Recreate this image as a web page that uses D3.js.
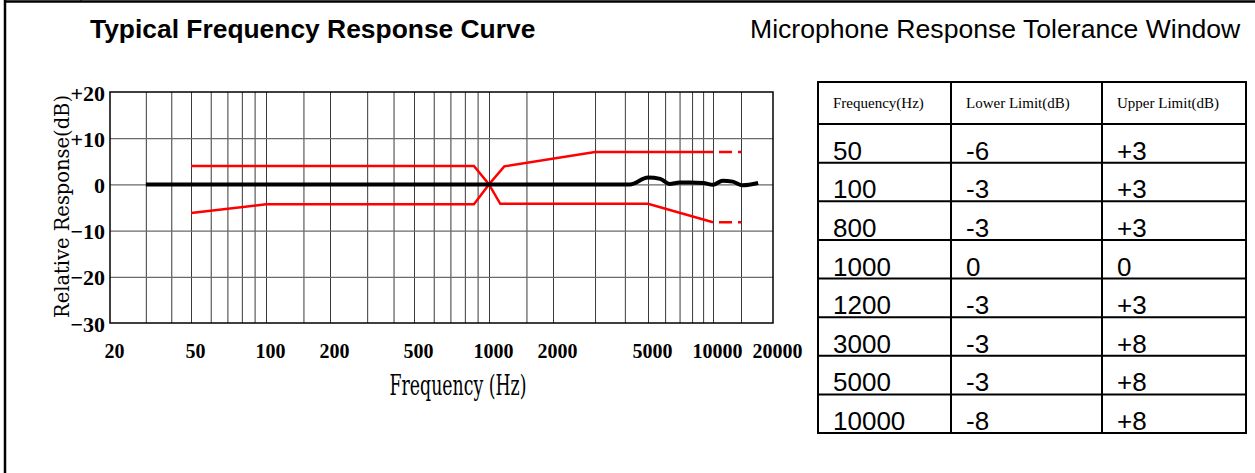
<!DOCTYPE html>
<html>
<head>
<meta charset="utf-8">
<script src="https://cdn.jsdelivr.net/npm/d3@7"></script>
<style>
body { margin: 0; background: #fff; }
svg { display: block; }
</style>
</head>
<body>
<svg id="chart" width="1255" height="473"></svg>
<script>
// axis labels and grid
var freqTicks = [20, 50, 100, 200, 500, 1000, 2000, 5000, 10000, 20000];
var gridFreqs = [30, 40, 50, 60, 70, 80, 90, 100, 150, 200, 300, 400, 500, 600, 700, 800, 900,
  1000, 1500, 2000, 3000, 4000, 5000, 6000, 7000, 8000, 9000, 10000, 15000];
var dbTicks = [20, 10, 0, -10, -20, -30];

// tolerance window, as drawn on the graph
var upperFreq = [50, 870, 1000, 1180, 3000, 10000];
var upperDb = [4, 4, 0, 3.9, 7, 7];
var lowerFreq = [50, 100, 870, 1000, 1130, 5000, 10000];
var lowerDb = [-6.2, -4.3, -4.3, 0, -4.2, -4.2, -8.2];
var extFreq = [10000, 15000];

// typical response curve
var responseFreq = [30, 1000, 4200, 5000, 5700, 6300, 7000, 7800, 9000, 10000, 11500, 13300, 15200, 17500];
var responseDb = [0, 0, 0, 1.5, 1.2, 0.1, 0.4, 0.4, 0.3, -0.1, 0.8, 0.6, -0.2, 0.3];

// tolerance table
var tableHead = ["Frequency(Hz)", "Lower Limit(dB)", "Upper Limit(dB)"];
var tableFreq = ["50", "100", "800", "1000", "1200", "3000", "5000", "10000"];
var tableLower = ["-6", "-3", "-3", "0", "-3", "-3", "-3", "-8"];
var tableUpper = ["+3", "+3", "+3", "0", "+3", "+8", "+8", "+8"];

var svg = d3.select("#chart");

// page frame
svg.append("line").attr("x1", 5).attr("y1", 0).attr("x2", 5).attr("y2", 473)
  .attr("stroke", "#000").attr("stroke-width", 2.5);
svg.append("line").attr("x1", 4).attr("y1", 1.5).attr("x2", 1255).attr("y2", 1.5)
  .attr("stroke", "#000").attr("stroke-width", 2.5);
svg.append("line").attr("x1", 81).attr("y1", 0).attr("x2", 81).attr("y2", 2)
  .attr("stroke", "#000").attr("stroke-width", 1);

// titles
svg.append("text").attr("x", 90).attr("y", 38)
  .style("font-family", "'Liberation Sans', Arial, sans-serif").style("font-size", "26.4px")
  .style("font-weight", "bold").text("Typical Frequency Response Curve");
svg.append("text").attr("x", 750).attr("y", 38)
  .style("font-family", "'Liberation Sans', Arial, sans-serif").style("font-size", "26.6px")
  .text("Microphone Response Tolerance Window");

// ---- graph ----
var plotL = 110, plotR = 773, plotT = 92, plotB = 323;

// the printed axis is not a perfect log, so calibrate it piecewise on the labels
var x = d3.scaleLog()
  .domain([20, 50, 100, 200, 500, 1000, 2000, 5000, 10000, 15000, 20000])
  .range([110, 191, 266, 330, 414, 489, 553, 648, 713, 741, 773]);
var y = d3.scaleLinear().domain([-30, 20]).range([plotB, plotT]);

var xgrid = svg.append("g").attr("transform", "translate(0," + plotB + ")")
  .call(d3.axisBottom(x).tickValues(gridFreqs).tickSize(-(plotB - plotT)).tickFormat(""));
xgrid.select(".domain").remove();
xgrid.selectAll("line").attr("stroke", "#3a3a3a").attr("stroke-width", 1);

var ygrid = svg.append("g").attr("transform", "translate(" + plotL + ",0)")
  .call(d3.axisLeft(y).tickValues([10, 0, -10, -20]).tickSize(-(plotR - plotL)).tickFormat(""));
ygrid.select(".domain").remove();
ygrid.selectAll("line").attr("stroke", "#6a6a6a").attr("stroke-width", 1.2);

svg.append("rect").attr("x", plotL).attr("y", plotT).attr("width", plotR - plotL).attr("height", plotB - plotT)
  .attr("fill", "none").attr("stroke", "#000").attr("stroke-width", 1.5);

var xaxis = svg.append("g").attr("transform", "translate(4," + (plotB + 18) + ")")
  .call(d3.axisBottom(x).tickValues(freqTicks).tickSize(0).tickFormat(d3.format("d")));
xaxis.select(".domain").remove();
xaxis.selectAll("text")
  .style("font-family", "'Liberation Serif', 'Times New Roman', serif")
  .style("font-size", "20px").style("font-weight", "bold").attr("fill", "#000");

var yaxis = svg.append("g").attr("transform", "translate(" + (plotL - 2) + ",1)")
  .call(d3.axisLeft(y).tickValues(dbTicks).tickSize(0)
    .tickFormat(function(d) { return d > 0 ? "+" + d : (d < 0 ? "\u2212" + (-d) : "0"); }));
yaxis.select(".domain").remove();
yaxis.selectAll("text")
  .style("font-family", "'Liberation Serif', 'Times New Roman', serif")
  .style("font-size", "22px").style("font-weight", "bold").attr("fill", "#000");

svg.append("text")
  .attr("transform", "translate(69," + ((plotT + plotB) / 2 - 1) + ") rotate(-90)")
  .attr("text-anchor", "middle")
  .attr("textLength", 223).attr("lengthAdjust", "spacingAndGlyphs")
  .style("font-family", "'DejaVu Serif', serif").style("font-size", "21px")
  .text("Relative Response(dB)");

svg.append("text")
  .attr("x", 458).attr("y", 395).attr("text-anchor", "middle")
  .attr("textLength", 137).attr("lengthAdjust", "spacingAndGlyphs")
  .style("font-family", "'DejaVu Serif', serif").style("font-size", "27px")
  .text("Frequency (Hz)");

// tolerance lines
var line = d3.line().x(function(d) { return x(d[0]); }).y(function(d) { return y(d[1]); });
var upper = d3.zip(upperFreq, upperDb);
var lower = d3.zip(lowerFreq, lowerDb);

[upper, lower].forEach(function(pts) {
  svg.append("path").attr("d", line(pts)).attr("fill", "none")
    .attr("stroke", "#ff0000").attr("stroke-width", 2.5);
});

// dashed extension 10k - 15k
[upperDb[upperDb.length - 1], lowerDb[lowerDb.length - 1]].forEach(function(v) {
  svg.append("path").attr("d", line(extFreq.map(function(f) { return [f, v]; })))
    .attr("fill", "none").attr("stroke", "#ff0000").attr("stroke-width", 2.5)
    .attr("stroke-dasharray", "13,6").attr("stroke-dashoffset", 13);
});

// response curve
var curve = d3.line().curve(d3.curveMonotoneX)
  .x(function(d) { return x(d[0]); }).y(function(d) { return y(d[1]); });
svg.append("path").attr("d", curve(d3.zip(responseFreq, responseDb)))
  .attr("fill", "none").attr("stroke", "#000").attr("stroke-width", 4)
  .attr("stroke-linejoin", "round");

// ---- table ----
var colX = [818, 951, 1102, 1246];
var headTop = 82, headBottom = 124, tableBottom = 433;
var row = d3.scaleBand().domain(d3.range(tableFreq.length)).range([headBottom, tableBottom]);

var tbl = svg.append("g");
var columns = [tableFreq, tableLower, tableUpper];

tableHead.forEach(function(h, i) {
  tbl.append("text").attr("x", colX[i] + 15).attr("y", (headTop + headBottom) / 2 + 5)
    .style("font-family", "'Liberation Serif', 'Times New Roman', serif").style("font-size", "15px")
    .text(h);
});

columns.forEach(function(col, i) {
  tbl.selectAll(null).data(col).enter().append("text")
    .attr("x", colX[i] + 15)
    .attr("y", function(d, j) { return row(j) + row.bandwidth() - 3; })
    .style("font-family", "'Liberation Sans', Arial, sans-serif").style("font-size", "26px")
    .text(function(d) { return d; });
});

// grid of the table
var hLines = [headTop, headBottom].concat(d3.range(tableFreq.length).map(function(j) { return row(j) + row.bandwidth(); }));
tbl.selectAll(null).data(hLines).enter().append("line")
  .attr("x1", colX[0] - 1).attr("x2", colX[3] + 1)
  .attr("y1", function(d) { return d; }).attr("y2", function(d) { return d; })
  .attr("stroke", "#000").attr("stroke-width", 2);
tbl.selectAll(null).data(colX).enter().append("line")
  .attr("x1", function(d) { return d; }).attr("x2", function(d) { return d; })
  .attr("y1", headTop).attr("y2", tableBottom)
  .attr("stroke", "#000").attr("stroke-width", 2);
</script>
</body>
</html>
